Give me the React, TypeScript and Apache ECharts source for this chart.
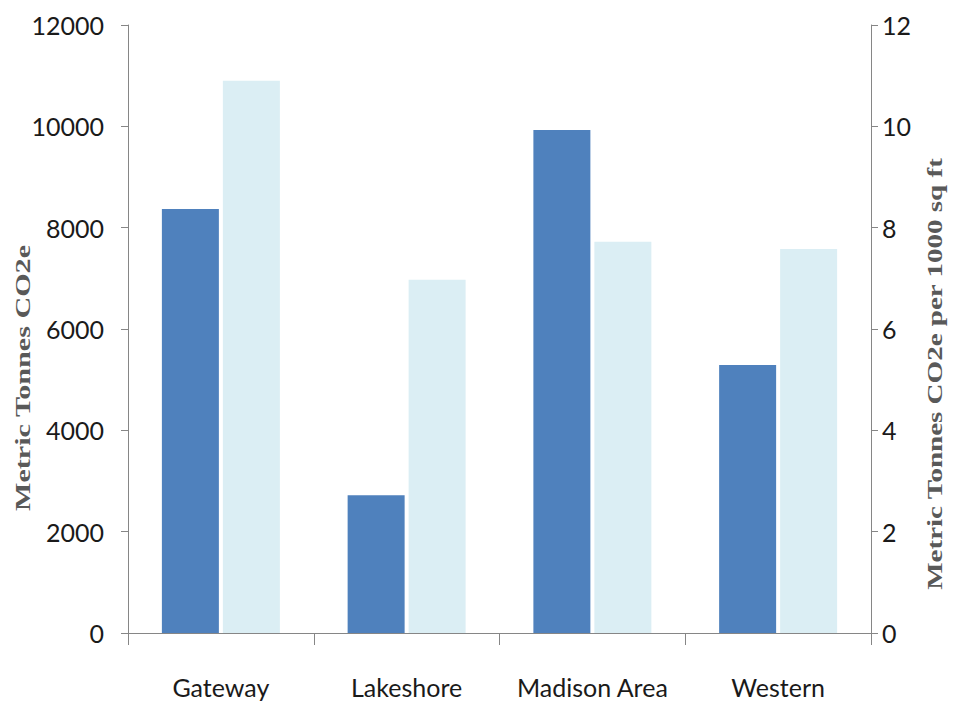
import React, { useEffect, useRef } from "react";
import * as echarts from "echarts";

const regions = ["Gateway", "Lakeshore", "Madison Area", "Western"];
const totalTonnes = [8370, 2720, 9930, 5290];
const tonnesPer1000SqFt = [10.9, 6.97, 7.72, 7.58];

const leftTitle = "Metric Tonnes CO2e";
const rightTitle = "Metric Tonnes CO2e per 1000 sq ft";

const labelFont = "Lato";
const titleFont = "Liberation Serif";
const axisGray = "#868686";

export default function App() {
  const ref = useRef<HTMLDivElement>(null);

  useEffect(() => {
    if (!ref.current) return;
    const chart = echarts.init(ref.current, null, { renderer: "svg" });

    const valueAxisBase = {
      type: "value" as const,
      min: 0,
      splitLine: { show: false },
      axisLine: { show: true, lineStyle: { color: axisGray, width: 1 } },
      axisTick: { show: true, length: 7, lineStyle: { color: axisGray } },
      axisLabel: {
        color: "#1a1a1a",
        fontSize: 25,
        fontFamily: labelFont,
        formatter: (v: number) => String(v),
      },
    };

    const titleStyle = {
      fontFamily: titleFont,
      fontSize: 22,
      fontWeight: "bold" as const,
      fill: "#595959",
      align: "center" as const,
      verticalAlign: "middle" as const,
    };

    chart.setOption({
      animation: false,
      backgroundColor: "#ffffff",
      grid: { left: 128, right: 83, top: 25, bottom: 72, containLabel: false },
      xAxis: {
        type: "category",
        data: regions,
        axisLine: { lineStyle: { color: axisGray, width: 1 } },
        axisTick: { show: true, length: 12, interval: 0, lineStyle: { color: axisGray } },
        axisLabel: {
          color: "#1a1a1a",
          fontSize: 25,
          fontFamily: labelFont,
          margin: 41,
          interval: 0,
        },
      },
      yAxis: [
        {
          ...valueAxisBase,
          max: 12000,
          interval: 2000,
          position: "left",
          axisLabel: { ...valueAxisBase.axisLabel, margin: 24 },
        },
        {
          ...valueAxisBase,
          max: 12,
          interval: 2,
          position: "right",
          axisLabel: { ...valueAxisBase.axisLabel, margin: 11 },
        },
      ],
      series: [
        {
          type: "bar",
          name: leftTitle,
          yAxisIndex: 0,
          data: totalTonnes,
          barWidth: 57,
          barGap: "7%",
          itemStyle: { color: "#4F81BD" },
        },
        {
          type: "bar",
          name: rightTitle,
          yAxisIndex: 1,
          data: tonnesPer1000SqFt,
          barWidth: 57,
          itemStyle: { color: "#DBEEF4" },
        },
      ],
      graphic: [
        {
          type: "text",
          x: 22,
          y: 378,
          rotation: Math.PI / 2,
          scaleX: 1.37,
          style: { ...titleStyle, text: leftTitle },
        },
        {
          type: "text",
          x: 935,
          y: 374,
          rotation: Math.PI / 2,
          scaleX: 1.32,
          style: { ...titleStyle, text: rightTitle },
        },
      ],
    });

    return () => chart.dispose();
  }, []);

  return (
    <div
      ref={ref}
      style={{ position: "absolute", left: 0, top: 0, width: 954, height: 705 }}
    />
  );
}
